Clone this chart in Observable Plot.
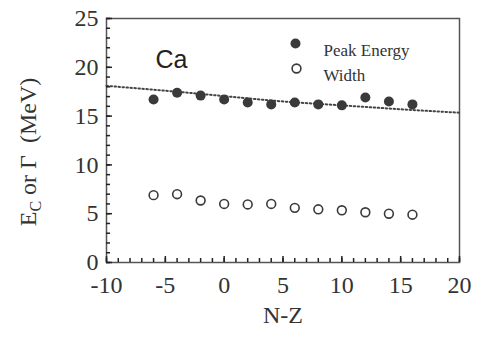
<!DOCTYPE html>
<html>
<head>
<meta charset="utf-8">
<script src="https://cdn.jsdelivr.net/npm/d3@7"></script>
<script src="https://cdn.jsdelivr.net/npm/@observablehq/plot@0.6"></script>
<style>
  html, body { margin: 0; padding: 0; background: #fff; }
  #chart svg { display: block; }
</style>
</head>
<body>
<div id="chart"></div>
<script>
// N-Z positions
const nz = [-6, -4, -2, 0, 2, 4, 6, 8, 10, 12, 14, 16];
// Peak energy E_C (MeV)
const peakEnergy = [16.7, 17.4, 17.1, 16.7, 16.4, 16.2, 16.4, 16.2, 16.1, 16.9, 16.5, 16.2];
// Width Γ (MeV)
const widthVals = [6.9, 7.0, 6.35, 6.0, 5.95, 6.0, 5.6, 5.45, 5.35, 5.15, 5.0, 4.9];
// Dotted systematics curve
const curveX = [-10, -5, 0, 5, 10, 15, 20];
const curveY = [18.1, 17.6, 17.05, 16.5, 16.1, 15.7, 15.35];
// Tick labels
const xTicks = [-10, -5, 0, 5, 10, 15, 20];
const yTicks = [0, 5, 10, 15, 20, 25];
const xMinor = [-10,-9,-8,-7,-6,-5,-4,-3,-2,-1,0,1,2,3,4,5,6,7,8,9,10,11,12,13,14,15,16,17,18,19,20];
const yMinor = [0,1,2,3,4,5,6,7,8,9,10,11,12,13,14,15,16,17,18,19,20,21,22,23,24,25];
// Text
const elementLabel = "Ca";
const legendLabels = ["Peak Energy", "Width"];
const xTitle = "N-Z";

const peakData = nz.map((x, i) => ({x, y: peakEnergy[i]}));
const widthData = nz.map((x, i) => ({x, y: widthVals[i]}));
const curveData = curveX.map((x, i) => ({x, y: curveY[i]}));

const ink = "#3a3a3a";
const W = 481, H = 343, mL = 106, mR = 22, mT = 18, mB = 81;
const xDom = [-10, 20], yDom = [0, 25];
const fw = W - mL - mR, fh = H - mT - mB;

const chart = Plot.plot({
  width: W,
  height: H,
  marginLeft: mL,
  marginRight: mR,
  marginTop: mT,
  marginBottom: mB,
  style: {fontFamily: "'Liberation Serif', 'Times New Roman', serif", fontSize: "24px", color: "#333", background: "#fff"},
  x: {domain: xDom},
  y: {domain: yDom},
  marks: [
    Plot.frame({stroke: "#555", strokeWidth: 1.5}),
    // tick labels
    Plot.axisX(xTicks, {tickSize: 0, tickPadding: 13, label: null, fontSize: 24, fill: "#333", tickFormat: d => String(d)}),
    Plot.axisY(yTicks, {tickSize: 0, tickPadding: 8, label: null, fontSize: 24, fill: "#333", tickFormat: d => String(d)}),
    Plot.line(curveData, {x: "x", y: "y", curve: "natural", stroke: "#444", strokeWidth: 2, strokeDasharray: "1.5,2.5"}),
    Plot.dot(peakData, {x: "x", y: "y", r: 5, fill: ink, stroke: "none"}),
    Plot.dot(widthData, {x: "x", y: "y", r: 4.4, fill: "#fff", stroke: ink, strokeWidth: 1.6}),
    // element label
    Plot.text([elementLabel], {frameAnchor: "top-left", dx: 49, dy: 32, text: d => d, textAnchor: "start",
      fontFamily: "'Liberation Sans', Arial, sans-serif", fontSize: 25, fill: "#222"}),
    // legend
    Plot.dot([0], {frameAnchor: "top-left", dx: 189, dy: 25, r: 5, fill: ink, stroke: "none"}),
    Plot.dot([0], {frameAnchor: "top-left", dx: 190, dy: 50, r: 4.4, fill: "#fff", stroke: ink, strokeWidth: 1.6}),
    Plot.text([legendLabels[0]], {frameAnchor: "top-left", dx: 217, dy: 25, text: d => d, textAnchor: "start", fontSize: 17, fill: "#333"}),
    Plot.text([legendLabels[1]], {frameAnchor: "top-left", dx: 217, dy: 50, text: d => d, textAnchor: "start", fontSize: 17, fill: "#333"}),
    // x title
    Plot.text([xTitle], {frameAnchor: "bottom", dy: 60, text: d => d, fontSize: 24, fill: "#333"}),
    // inward ticks along bottom and left edges
    Plot.tickX(xMinor, {x: d => d, insetTop: fh - 4, stroke: "#222", strokeWidth: 1.5}),
    Plot.tickX(xTicks, {x: d => d, insetTop: fh - 6, stroke: "#222", strokeWidth: 1.5}),
    Plot.tickY(yMinor, {y: d => d, insetRight: fw - 4, stroke: "#222", strokeWidth: 1.5}),
    Plot.tickY(yTicks, {y: d => d, insetRight: fw - 6, stroke: "#222", strokeWidth: 1.5})
  ]
});

// y-axis title with subscript
const svg = d3.select(chart);
const t = svg.append("text")
  .attr("transform", "translate(36,152) rotate(-90)")
  .attr("text-anchor", "middle")
  .attr("font-family", "'Liberation Serif', 'Times New Roman', serif")
  .attr("font-size", 24)
  .attr("fill", "#333");
t.append("tspan").text("E");
t.append("tspan").attr("font-size", 16).attr("dy", 5).text("C");
t.append("tspan").attr("dy", -5).text(" or \u0393  (MeV)");

document.getElementById("chart").appendChild(chart);
</script>
</body>
</html>
